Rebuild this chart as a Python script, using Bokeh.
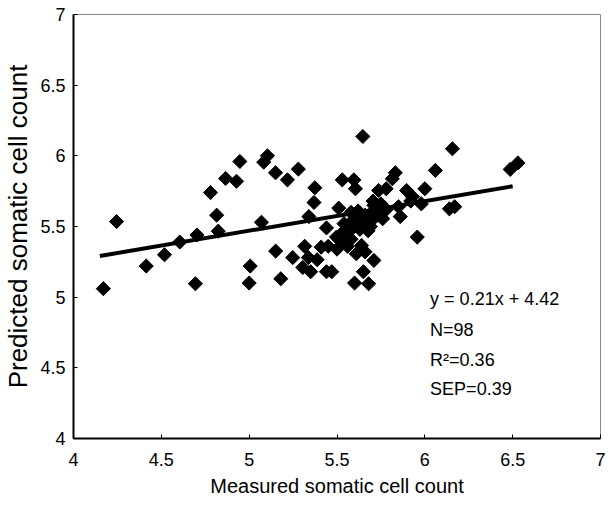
import math
from bokeh.plotting import figure
from bokeh.models import Label, Range1d, FixedTicker
from bokeh.embed import file_html
from bokeh.resources import INLINE

measured = [4.17, 4.245, 4.414, 4.518, 4.605, 4.694, 4.703, 4.78, 4.815, 4.824,
            4.866, 4.928, 4.947, 5.006, 5.0, 5.07, 5.083, 5.104, 5.15, 5.151,
            5.18, 5.218, 5.248, 5.28, 5.316, 5.305, 5.337, 5.35, 5.387, 5.374,
            5.369, 5.34, 5.41, 5.44, 5.44, 5.45,
            5.647, 5.53, 5.596, 5.605, 5.832, 5.815, 5.78, 5.737, 5.896, 5.92,
            6.0, 6.06, 5.98, 5.51, 5.58, 5.62, 5.705, 5.72, 5.75, 5.76,
            5.85, 5.86, 5.677, 5.497, 5.525, 5.55, 5.58, 5.64, 5.50, 5.61,
            5.66, 5.957, 5.71, 5.65, 5.60, 5.68, 5.47, 6.157, 6.486, 6.53,
            6.14, 6.17, 5.93,
            5.70, 5.72, 5.74, 5.71, 5.73, 5.68, 5.66, 5.69, 5.63, 5.60,
            5.57, 5.54, 5.62, 5.58, 5.75, 5.78, 5.66, 5.53, 5.56]
predicted = [5.06, 5.535, 5.22, 5.30, 5.39, 5.095, 5.44, 5.74, 5.58, 5.467,
             5.84, 5.82, 5.96, 5.22, 5.10, 5.53, 5.955, 6.0, 5.88, 5.326,
             5.13, 5.83, 5.28, 5.906, 5.36, 5.21, 5.28, 5.18, 5.265, 5.774,
             5.67, 5.57, 5.354, 5.49, 5.18, 5.36,
             6.137, 5.83, 5.83, 5.767, 5.88, 5.838, 5.767, 5.755, 5.755, 5.68,
             5.767, 5.897, 5.66, 5.63, 5.60, 5.61, 5.68, 5.64, 5.61, 5.555,
             5.64, 5.57, 5.47, 5.425, 5.45, 5.39, 5.41, 5.366, 5.34, 5.307,
             5.32, 5.425, 5.26, 5.18, 5.10, 5.095, 5.18, 6.05, 5.904, 5.95,
             5.625, 5.64, 5.71,
             5.60, 5.57, 5.58, 5.65, 5.62, 5.55, 5.52, 5.50, 5.48, 5.50,
             5.47, 5.52, 5.55, 5.53, 5.66, 5.62, 5.58, 5.40, 5.36]

slope = 0.21
intercept = 4.42
fit_x = [4.15, 6.5]
fit_y = [slope * v + intercept for v in fit_x]

tick_values = [4, 4.5, 5, 5.5, 6, 6.5, 7]
tick_labels = {4: "4", 4.5: "4.5", 5: "5", 5.5: "5.5", 6: "6", 6.5: "6.5", 7: "7"}

stats_lines = ["y = 0.21x + 4.42", "N=98", "R\u00b2=0.36", "SEP=0.39"]
stats_y = [4.984, 4.771, 4.552, 4.347]
stats_x = 6.03

FONT = "Liberation Sans"

p = figure(width=608, height=517, output_backend="svg", toolbar_location=None,
           x_range=Range1d(4, 7), y_range=Range1d(4, 7),
           min_border_left=70, min_border_right=8, min_border_top=14,
           min_border_bottom=79)
p.grid.visible = False
p.outline_line_color = "#888888"
p.outline_line_width = 1
p.background_fill_color = "white"
p.border_fill_color = "white"

for ax in (p.xaxis[0], p.yaxis[0]):
    ax.ticker = FixedTicker(ticks=tick_values)
    ax.major_label_overrides = tick_labels
    ax.minor_tick_line_color = None
    ax.major_tick_in = 4
    ax.major_tick_out = 0
    ax.axis_line_width = 2
    ax.axis_line_color = "black"
    ax.major_tick_line_color = "black"
    ax.major_label_text_font = FONT
    ax.major_label_text_font_size = "18px"
    ax.major_label_text_color = "black"
    ax.axis_label_text_font = FONT
    ax.axis_label_text_font_style = "normal"
    ax.axis_label_text_color = "black"

p.xaxis.axis_label = "Measured somatic cell count"
p.xaxis.axis_label_text_font_size = "20px"
p.xaxis.major_label_standoff = 14
p.xaxis.axis_label_standoff = 6
p.yaxis.axis_label = "Predicted somatic cell count"
p.yaxis.axis_label_text_font_size = "26px"
p.yaxis.major_label_standoff = 8
p.yaxis.axis_label_standoff = 4

p.line(fit_x, fit_y, line_color="black", line_width=4)
p.scatter(measured, predicted, marker="square", size=10, angle=math.pi / 4,
          fill_color="black", line_color="black")

for txt, yy in zip(stats_lines, stats_y):
    p.add_layout(Label(x=stats_x, y=yy, text=txt, text_font=FONT,
                       text_font_size="18px", text_color="black",
                       text_baseline="middle", text_align="left"))

open("out.html", "w").write(file_html(p, INLINE))
